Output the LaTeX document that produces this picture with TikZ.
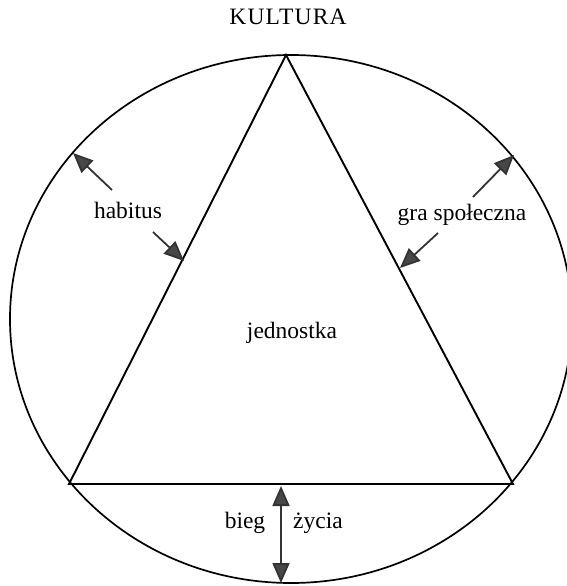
\documentclass[tikz,border=0pt]{standalone}
\usepackage{fontspec}
\setmainfont{Liberation Serif}
\usetikzlibrary{arrows.meta}

\begin{document}
\begin{tikzpicture}[x=1pt,y=-1pt,
		napis/.style={font=\fontsize{23.5}{28}\selectfont,inner sep=0pt},
		grot/.tip={Triangle[length=20pt,width=17pt,fill=black!72]},
		strz/.style={-grot,line width=1.8pt,draw=black!80}]
		\useasboundingbox (0,0) rectangle (566,586);
		\node[napis] (kultura) at (288,17) {\addfontfeature{LetterSpace=5}KULTURA};
		% okrąg kultury
		\draw[line width=1.7pt] (291,319) ellipse [x radius=281pt,y radius=264pt];
		% trójkąt
		\coordinate (gora) at (286,55);
		\coordinate (lewy) at (69,484);
		\coordinate (prawy) at (513,484);
		\draw[line width=1.9pt,line join=miter] (gora) -- (lewy) -- (prawy) -- cycle;
		\node[napis] (jednostka) at (292,333) {jednostka};
		% habitus
		\node[napis] (habitus) at (128,210) {habitus};
		\coordinate (h1) at (112,190);
		\coordinate (h1k) at (73,153);
		\coordinate (h2) at (153,232);
		\coordinate (h2k) at (184,261);
		\draw[strz] (h1) -- (h1k);
		\draw[strz] (h2) -- (h2k);
		% gra społeczna
		\node[napis] (gra) at (462,215) {gra społeczna};
		\coordinate (g1) at (473,197);
		\coordinate (g1k) at (514,155);
		\coordinate (g2) at (438,233);
		\coordinate (g2k) at (400,268);
		\draw[strz] (g1) -- (g1k);
		\draw[strz] (g2) -- (g2k);
		% bieg życia
		\coordinate (b1) at (281,486);
		\coordinate (b2) at (281,583);
		\draw[strz,grot-grot] (b1) -- (b2);
		\node[napis] (bieg) at (245,523) {bieg};
		\node[napis] (zycia) at (318,523) {życia};
	\end{tikzpicture}
\end{document}
